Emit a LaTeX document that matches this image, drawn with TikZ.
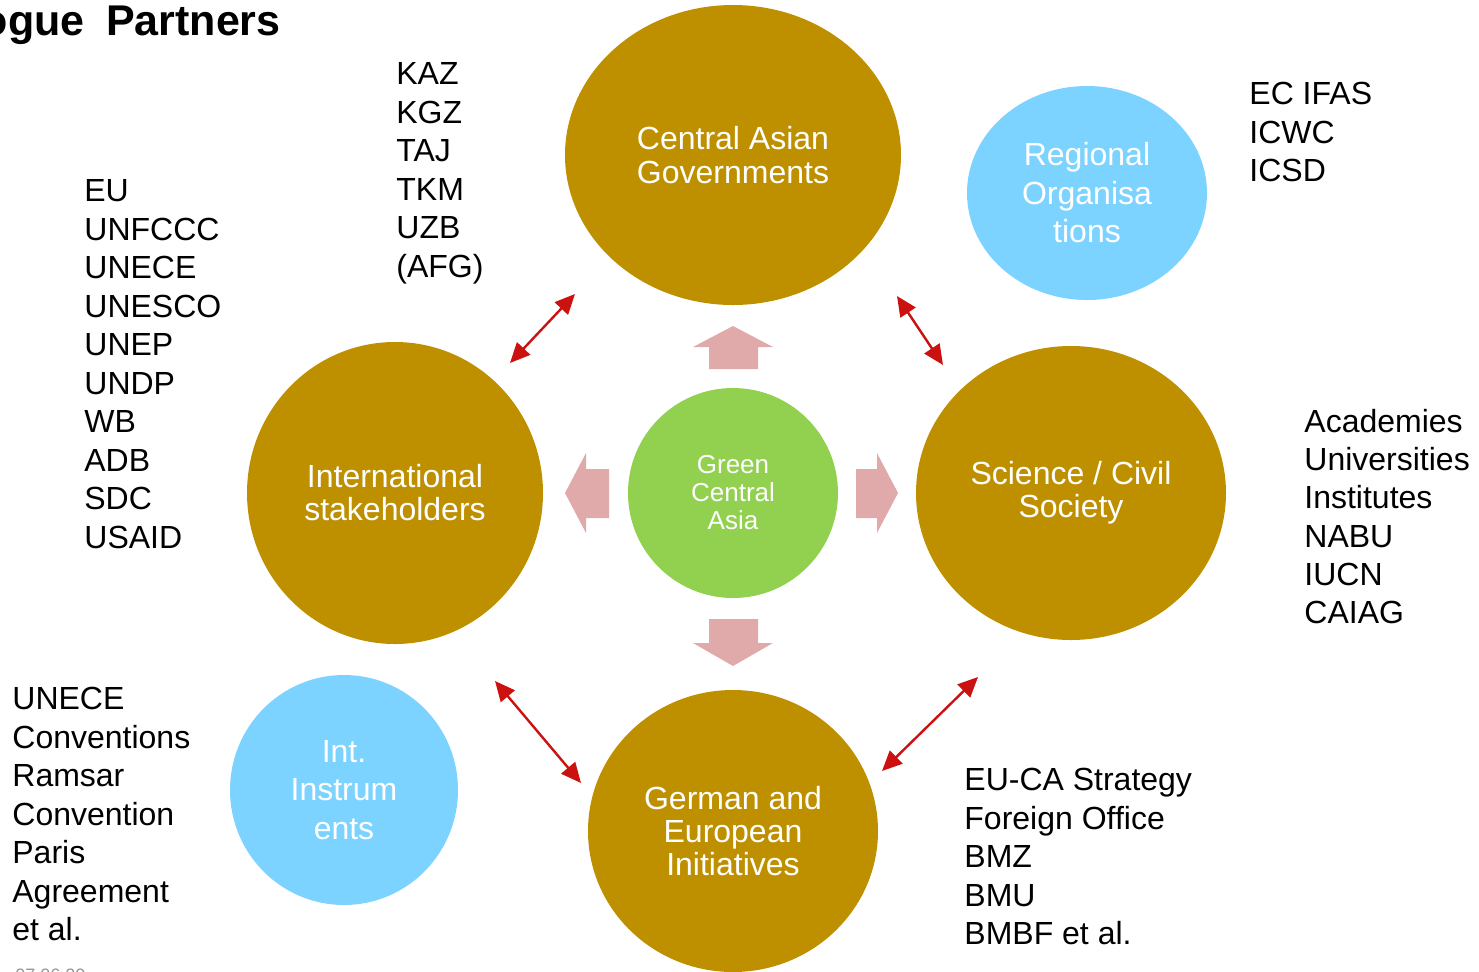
\documentclass[tikz,border=0pt]{standalone}
\usepackage{fontspec}
\setmainfont{Liberation Sans}
\usetikzlibrary{shapes.geometric,arrows.meta}
\definecolor{gold}{RGB}{190,144,0}
\definecolor{lblue}{RGB}{125,211,255}
\definecolor{lgreen}{RGB}{146,208,80}
\definecolor{pinkar}{RGB}{224,170,170}
\definecolor{arrowred}{RGB}{204,17,17}
\definecolor{dategrey}{RGB}{150,150,150}
\begin{document}
\begin{tikzpicture}[x=0.5pt,y=-0.5pt,
  blob/.style={ellipse,inner sep=0pt,text=white,align=center},
  goldblob/.style={blob,fill=gold},
  blueblob/.style={blob,fill=lblue},
  lbl/.style={anchor=base west,inner sep=0pt,font=\fontsize{16}{19.25}\selectfont},
  redarrow/.style={draw=arrowred,line width=1.2pt,
    {Triangle[length=10pt,width=9pt]}-{Triangle[length=10pt,width=9pt]}},
  blockarrow/.style={fill=pinkar}
]
\useasboundingbox (0,0) rectangle (1479,971);

% title
\node[anchor=base east,inner sep=0pt,font=\fontsize{21.5}{25}\selectfont\bfseries] (title) at (281,35) {Dialogue\hspace{0.5em}Partners};

% circles
\node[goldblob,minimum width=168pt,minimum height=150pt,font=\fontsize{16}{17}\selectfont] (cag) at (733,155) {Central Asian\\Governments};
\node[blueblob,minimum width=120pt,minimum height=107pt,font=\fontsize{16}{19.25}\selectfont] (reg) at (1087,193) {Regional\\Organisa\\tions};
\node[goldblob,minimum width=148pt,minimum height=151pt,font=\fontsize{16}{16.5}\selectfont] (int) at (395,493) {International\\stakeholders};
\node[goldblob,minimum width=155pt,minimum height=147pt,font=\fontsize{16}{16.5}\selectfont] (sci) at (1071,493) {Science / Civil\\Society};
\node[blob,fill=lgreen,minimum width=105pt,minimum height=105pt,font=\fontsize{13}{14}\selectfont] (gca) at (733,493) {Green\\Central\\Asia};
\node[goldblob,minimum width=145pt,minimum height=141pt,font=\fontsize{16}{16.5}\selectfont] (ger) at (733,831) {German and\\European\\Initiatives};
\node[blueblob,minimum width=114pt,minimum height=115pt,font=\fontsize{16}{19.25}\selectfont] (ins) at (344,790) {Int.\\Instrum\\ents};

% block arrows
\fill[blockarrow] (733,326) -- (773,347) -- (758,347) -- (758,369) -- (709,369) -- (709,347) -- (693,347) -- cycle;
\fill[blockarrow] (709,619) -- (758,619) -- (758,643) -- (773,643) -- (733,666) -- (693,643) -- (709,643) -- cycle;
\fill[blockarrow] (565,493) -- (586,453) -- (586,469) -- (609,469) -- (609,518) -- (586,518) -- (586,533) -- cycle;
\fill[blockarrow] (898,493) -- (877,453) -- (877,469) -- (856,469) -- (856,518) -- (877,518) -- (877,533) -- cycle;

% red double arrows
\coordinate (a1) at (575,294); \coordinate (b1) at (510,363);
\coordinate (a2) at (897,296); \coordinate (b2) at (943,365);
\coordinate (a3) at (495,681); \coordinate (b3) at (581,783);
\coordinate (a4) at (978,677); \coordinate (b4) at (882,771);
\draw[redarrow] (a1) -- (b1);
\draw[redarrow] (a2) -- (b2);
\draw[redarrow] (a3) -- (b3);
\draw[redarrow] (a4) -- (b4);

% lists
\foreach \t [count=\i] in {KAZ,KGZ,TAJ,TKM,UZB,{(AFG)}}
  \node[lbl] (gov\i) at (396,{84.5+38.6*(\i-1)}) {\t};
\foreach \t [count=\i] in {EU,UNFCCC,UNECE,UNESCO,UNEP,UNDP,WB,ADB,SDC,USAID}
  \node[lbl] (intl\i) at (84,{201.5+38.56*(\i-1)}) {\t};
\foreach \t [count=\i] in {EC IFAS,ICWC,ICSD}
  \node[lbl] (regl\i) at (1249,{104.5+38.5*(\i-1)}) {\t};
\foreach \t [count=\i] in {Academies,Universities,Institutes,NABU,IUCN,CAIAG}
  \node[lbl] (scil\i) at (1304,{432.5+38.2*(\i-1)}) {\t};
\foreach \t [count=\i] in {UNECE,Conventions,Ramsar,Convention,Paris,Agreement,et al.}
  \node[lbl] (insl\i) at (12,{709.5+38.5*(\i-1)}) {\t};
\foreach \t [count=\i] in {EU-CA Strategy,Foreign Office,BMZ,BMU,BMBF et al.}
  \node[lbl] (gerl\i) at (964,{790.5+38.5*(\i-1)}) {\t};

% date (cut off at page bottom)
\node[anchor=base west,inner sep=0pt,text=dategrey,font=\fontsize{9}{10}\selectfont] (date) at (15,981) {07.06.20};
\end{tikzpicture}
\end{document}
